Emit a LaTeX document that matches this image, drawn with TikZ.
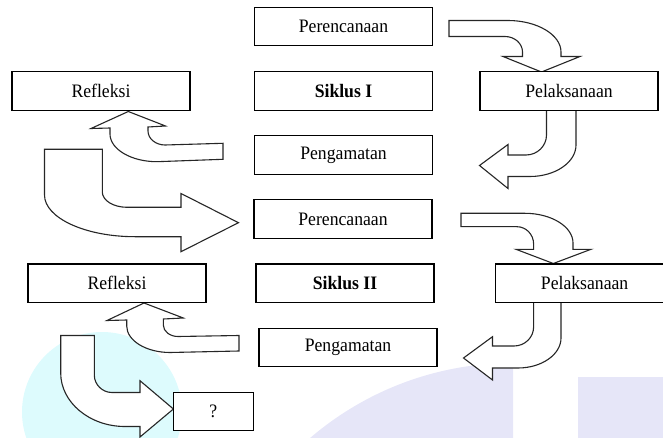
\documentclass[tikz,border=0pt]{standalone}
\usepackage{fontspec}
\setmainfont{Liberation Serif}[FakeStretch=0.93]
\definecolor{wmcyan}{RGB}{221,251,253}
\definecolor{wmlav}{RGB}{230,230,248}
\begin{document}
\begin{tikzpicture}[x=1pt,y=-1pt,
  box/.style={draw=black, fill=white, line width=1.1pt, minimum width=178pt, minimum height=38.5pt, inner sep=0pt, font=\fontsize{19}{21}\selectfont},
  barrow/.style={draw=black!85, fill=white, line width=1.1pt, line join=miter}]
\useasboundingbox (0,0) rectangle (663,438);
% faint background watermark
\fill[wmcyan] (102,412) circle (80);
\begin{scope}
  \clip (0,0) rectangle (513,438);
  \fill[wmlav] (513,675) circle (312);
\end{scope}
\fill[wmlav] (578,376.5) rectangle (663,438);

% block arrows
% A1: Perencanaan I -> Pelaksanaan I
\draw[barrow] (449,20.5) -- (508,20.5) .. controls (537,20.5) and (561,34.7) .. (561,52) -- (561,56.5) -- (580,56.5) -- (541.5,72) -- (503,56.5) -- (522.5,56.5) -- (522.5,52) .. controls (522.5,43.5) and (514.6,36.5) .. (505,36.5) -- (449,36.5) -- cycle;
% A2: Pelaksanaan I -> Pengamatan I
\draw[barrow] (546.5,110) -- (546.5,135) .. controls (546.5,146) and (537.3,155) .. (526,155) -- (508,155) -- (508,144.5) -- (479.5,165.5) -- (508,188.5) -- (508,176.5) -- (530,176.5) .. controls (555.3,176.5) and (576,162.3) .. (576,145) -- (576,110) -- cycle;
% A3: Pengamatan I -> Refleksi I
\draw[barrow] (223,143.3) -- (165,145) .. controls (155.7,145) and (148,138.7) .. (148,131) -- (148,127) -- (165.5,126) -- (128.3,111.5) -- (91,128.5) -- (110,128) -- (110,134) .. controls (110,149.2) and (131.2,161.7) .. (157,161.7) -- (223,159.3) -- cycle;
% A4: Refleksi I -> Perencanaan II
\draw[barrow] (44.5,149.3) -- (102.3,149.3) -- (102.3,192) .. controls (102.3,200.4) and (113.4,207.3) .. (127,207.3) -- (181,207.3) -- (181,193.5) -- (238.5,222.7) -- (181,251.7) -- (181,236.7) -- (135,236.7) .. controls (85.2,236.7) and (44.5,217.9) .. (44.5,195) -- cycle;
% A5: Perencanaan II -> Pelaksanaan II
\draw[barrow] (461,213.3) -- (525,213.3) .. controls (551.4,213.3) and (573,226.7) .. (573,243) -- (573,249.3) -- (591,249.3) -- (553.3,263.5) -- (516,249.3) -- (533.6,249.3) -- (533.6,244) .. controls (533.6,234.5) and (526.1,226.7) .. (517,226.7) -- (461,226.7) -- cycle;
% A6: Pelaksanaan II -> Pengamatan II
\draw[barrow] (533.6,302.3) -- (533.6,327) .. controls (533.6,337.5) and (524.8,346) .. (514,346) -- (492.5,346) -- (492.5,336.7) -- (463.5,358) -- (492.5,380) -- (492.5,368) -- (518,368) .. controls (541.7,368) and (561,354.5) .. (561,338) -- (561,302.3) -- cycle;
% A7: Pengamatan II -> Refleksi II
\draw[barrow] (239,335.5) -- (178,336.5) .. controls (169.9,336.5) and (163.3,331.3) .. (163.3,325) -- (163.3,319) -- (183.3,318) -- (144,303) -- (107,320.5) -- (126.7,320) -- (126.7,326) .. controls (126.7,340.6) and (146.2,352.5) .. (170,352.5) -- (239,351) -- cycle;
% A8: Refleksi II -> ?
\draw[barrow] (60.7,335.5) -- (94.3,335.5) -- (94.3,375) .. controls (94.3,384.6) and (102.3,392.5) .. (112,392.5) -- (140,392.5) -- (140,380.7) -- (173.4,409) -- (140,437) -- (140,426.5) -- (125,426.5) .. controls (89.6,426.5) and (60.7,402.4) .. (60.7,373) -- cycle;

% boxes
\node[box] (per1) at (343.5,26.5) {Perencanaan};
\node[box] (ref1) at (101,91) {Refleksi};
\node[box] (sik1) at (343.5,91) {\bfseries Siklus I};
\node[box] (pel1) at (569,91) {Pelaksanaan};
\node[box] (pen1) at (343.5,155.2) {Pengamatan};
\node[box] (per2) at (343,219.2) {Perencanaan};
\node[box] (ref2) at (117,283.2) {Refleksi};
\node[box] (sik2) at (345,283.2) {\bfseries Siklus II};
\node[box] (pel2) at (584.6,283.2) {Pelaksanaan};
\node[box] (pen2) at (348,347.5) {Pengamatan};
\node[box, minimum width=80pt, minimum height=38.4pt] (q) at (213.4,411.5) {?};
\end{tikzpicture}
\end{document}
